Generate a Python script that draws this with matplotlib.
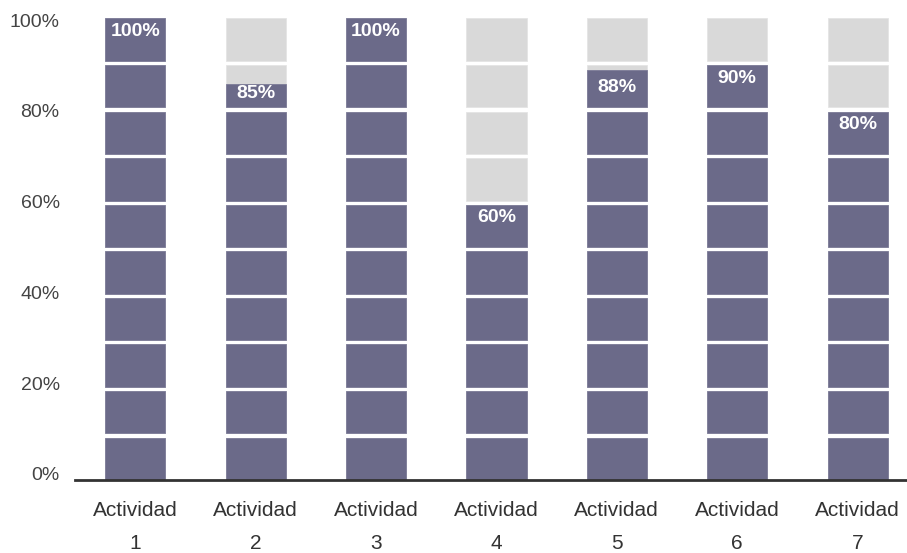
import numpy as np
import matplotlib.pyplot as plt

# datos del gráfico
actividades = ['Actividad\n1', 'Actividad\n2', 'Actividad\n3', 'Actividad\n4',
               'Actividad\n5', 'Actividad\n6', 'Actividad\n7']
porcentajes = [100, 85, 100, 60, 88, 90, 80]
etiquetas_y = ['0%', '20%', '40%', '60%', '80%', '100%']

COLOR_LLENO = '#6b6a89'
COLOR_VACIO = '#d9d9d9'
N_SEG = 10          # bloques de 10% por barra
HUECO = 0.9         # separación blanca entre bloques


def dibujar_barras(ax):
    """Dibuja cada barra como una pila de 10 bloques."""
    x = np.arange(len(porcentajes))
    paso = 100 / N_SEG
    for i, valor in enumerate(porcentajes):
        for k in range(N_SEG):
            base = k * paso
            alto = paso - HUECO
            ax.bar(x[i], alto, bottom=base, width=0.5, color=COLOR_VACIO,
                   edgecolor='#e4e4e4', linewidth=0.6, zorder=2)
            lleno = min(max(valor - base, 0), alto)
            if lleno > 0:
                ax.bar(x[i], lleno, bottom=base, width=0.5, color=COLOR_LLENO,
                       edgecolor='#7c7b98', linewidth=0.6, zorder=3)
        # etiqueta del valor dentro del bloque superior
        base_sup = np.floor((valor - 0.01) / paso) * paso
        y_txt = max(valor - 3.7, base_sup + 3.0)
        ax.text(x[i], y_txt, f'{valor}%', ha='center', va='center',
                color='white', fontsize=14, fontweight='bold', zorder=4)
    return x


def main():
    plt.rcParams['font.family'] = ['Liberation Sans', 'DejaVu Sans']
    fig = plt.figure(figsize=(9.07, 5.53), dpi=100)
    ax = fig.add_axes([75 / 907, 73 / 553, 1 - 75 / 907, 470 / 553])

    x = dibujar_barras(ax)

    ax.set_xlim(-0.5, 6.41)
    ax.set_ylim(0, 100.9)

    ax.set_xticks(x)
    ax.set_xticklabels(actividades, fontsize=15, color='#333333', linespacing=1.95)
    ax.set_yticks(np.linspace(1.3, 98.7, 6))
    ax.set_yticklabels(etiquetas_y, fontsize=14, color='#444444')
    ax.tick_params(axis='x', length=0, pad=15)
    ax.tick_params(axis='y', length=0, pad=11)

    for lado in ['top', 'right', 'left']:
        ax.spines[lado].set_visible(False)
    ax.spines['bottom'].set_color('#333333')
    ax.spines['bottom'].set_linewidth(2)
    ax.spines['bottom'].set_zorder(5)

    fig.savefig('out.png', dpi=100)


if __name__ == '__main__':
    main()
